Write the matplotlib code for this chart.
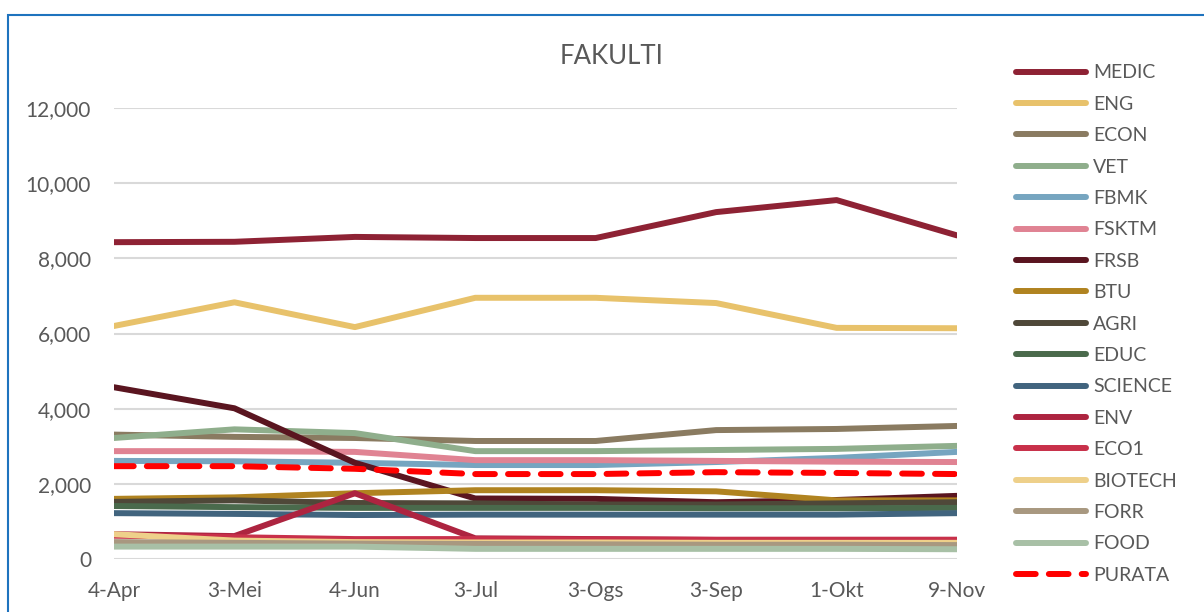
import matplotlib.pyplot as plt
from matplotlib.patches import Rectangle

# data
months = ['4-Apr', '3-Mei', '4-Jun', '3-Jul', '3-Ogs', '3-Sep', '1-Okt', '9-Nov']

medic = [8430, 8440, 8570, 8540, 8540, 9230, 9550, 8610]
eng = [6200, 6830, 6170, 6950, 6950, 6810, 6150, 6140]
econ = [3310, 3250, 3220, 3140, 3140, 3430, 3460, 3540]
vet = [3220, 3450, 3350, 2870, 2870, 2900, 2930, 3010]
fbmk = [2610, 2600, 2560, 2500, 2500, 2580, 2690, 2850]
fsktm = [2870, 2870, 2850, 2630, 2630, 2610, 2590, 2580]
frsb = [4570, 4010, 2560, 1610, 1600, 1510, 1570, 1680]
btu = [1600, 1640, 1750, 1830, 1830, 1800, 1560, 1560]
agri = [1520, 1560, 1490, 1480, 1450, 1450, 1480, 1510]
educ = [1410, 1380, 1360, 1360, 1360, 1350, 1350, 1360]
science = [1220, 1200, 1170, 1180, 1180, 1180, 1180, 1220]
env = [660, 610, 1750, 550, 530, 510, 510, 510]
eco1 = [620, 580, 530, 530, 520, 510, 510, 510]
biotech = [660, 490, 450, 440, 440, 430, 430, 430]
forr = [450, 430, 410, 400, 390, 380, 380, 370]
food = [330, 330, 330, 270, 270, 270, 270, 260]
purata = [2470, 2470, 2400, 2260, 2260, 2310, 2290, 2260]

series = [
    ('MEDIC', medic, '#8E2234'),
    ('ENG', eng, '#E8C26B'),
    ('ECON', econ, '#8A7B61'),
    ('VET', vet, '#8FAE8C'),
    ('FBMK', fbmk, '#76A5C0'),
    ('FSKTM', fsktm, '#E08393'),
    ('FRSB', frsb, '#5A1520'),
    ('BTU', btu, '#B08320'),
    ('AGRI', agri, '#4F4839'),
    ('EDUC', educ, '#4A6A4C'),
    ('SCIENCE', science, '#41647E'),
    ('ENV', env, '#AD2440'),
    ('ECO1', eco1, '#C8304A'),
    ('BIOTECH', biotech, '#EED08A'),
    ('FORR', forr, '#A89880'),
    ('FOOD', food, '#A8C0A6'),
]

plt.rcParams['font.family'] = ['Lato', 'DejaVu Sans']
txt = '#595959'

fig = plt.figure(figsize=(12.04, 6.12), dpi=100)
ax = fig.add_axes([114/1204, 1-559/612, (957-114)/1204, (559-108)/612])

x = list(range(len(months)))
for name, vals, col in series:
    ax.plot(x, vals, color=col, lw=4.3, solid_capstyle='round', solid_joinstyle='round', label=name)
ax.plot(x, purata, color='#FF0000', lw=4.3, linestyle=(0, (3.3, 2.2)),
        dash_capstyle='round', label='PURATA')

ax.set_xlim(0, len(months)-1)
ax.set_ylim(0, 12000)
ax.set_yticks(range(0, 12001, 2000))
ax.set_yticklabels([f'{v:,}' for v in range(0, 12001, 2000)])
ax.set_xticks(x)
ax.set_xticklabels(months)
ax.tick_params(length=0, labelsize=15, colors=txt, pad=16)
ax.tick_params(axis='y', pad=16.5)
ax.grid(axis='y', color='#D9D9D9', lw=1.5)
ax.set_axisbelow(True)
for s in ax.spines.values():
    s.set_visible(False)

fig.text(612/1204, 1-57/612, 'FAKULTI', ha='center', va='center', fontsize=18.5, color=txt)

leg = ax.legend(loc='upper left', bbox_to_anchor=(998/1204, 1-47/612), bbox_transform=fig.transFigure,
                frameon=False, fontsize=14, handlelength=3.6, labelspacing=0.74, handletextpad=0.38)
for t in leg.get_texts():
    t.set_color(txt)

fig.patches.append(Rectangle((8/1204, -0.1), 1.2, 1-15/612+0.1, transform=fig.transFigure,
                             fill=False, edgecolor='#1E73BE', lw=1.5))

fig.savefig('out.png', dpi=100)
